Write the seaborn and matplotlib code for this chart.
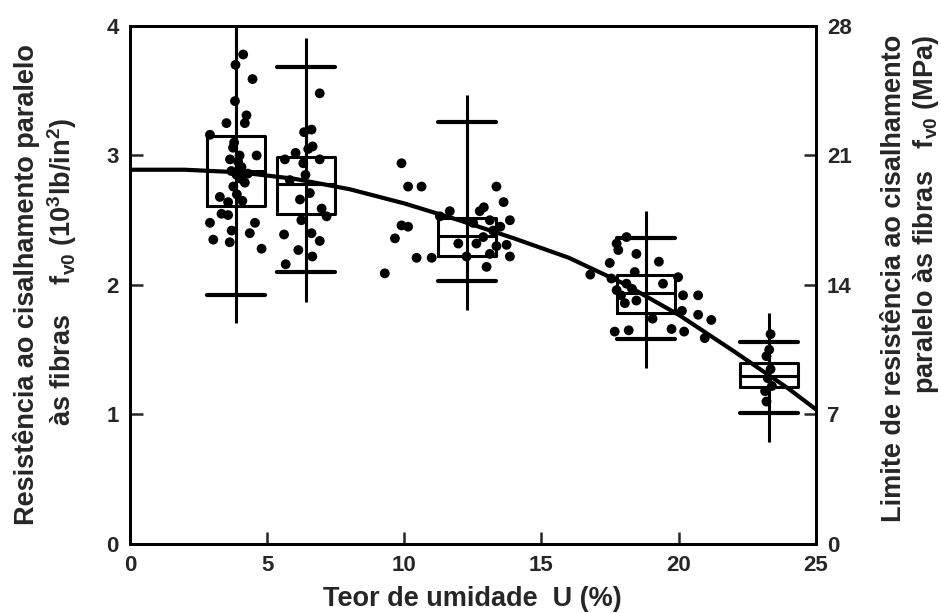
import pandas as pd
import seaborn as sns
import matplotlib.pyplot as plt

# fitted curve
curve_u = [0, 2, 4, 6, 8, 10, 12, 14, 16, 18, 20, 22, 24, 25]
curve_f = [2.89, 2.89, 2.87, 2.82, 2.74, 2.63, 2.50, 2.36, 2.21, 2.01, 1.77, 1.49, 1.20, 1.04]

# box summaries for the five moisture groups
box_pos = [3.87, 6.42, 12.28, 18.82, 23.30]
box_q1 = [2.61, 2.55, 2.22, 1.78, 1.21]
box_med = [2.88, 2.78, 2.38, 1.94, 1.30]
box_q3 = [3.15, 2.99, 2.52, 2.08, 1.40]
cap_lo = [1.92, 2.10, 2.03, 1.58, 1.01]
cap_hi = [4.20, 3.68, 3.26, 2.36, 1.56]
range_lo = [1.71, 1.87, 1.81, 1.36, 0.79]
range_hi = [4.30, 3.91, 3.47, 2.57, 1.78]

# individual specimens (U %, fv0 in 10^3 lb/in2)
g1_u = [4.13, 4.47, 3.83, 3.52, 4.25, 4.19, 2.92, 4.62, 3.76, 3.65, 4.07, 3.89, 4.19, 3.77, 3.95,
        4.05, 3.70, 4.30, 3.28, 3.58, 3.34, 3.58, 2.92, 4.56, 3.71, 4.37, 3.04, 3.64, 4.80, 3.85,
        3.80, 4.00, 3.90, 4.10]
g1_f = [3.78, 3.59, 3.42, 3.25, 3.31, 3.25, 3.16, 3.00, 3.06, 2.97, 2.91, 2.85, 2.79, 2.76, 2.95,
        2.82, 2.88, 2.86, 2.68, 2.64, 2.55, 2.54, 2.48, 2.48, 2.42, 2.40, 2.35, 2.33, 2.28, 3.70,
        3.10, 3.00, 2.70, 2.65]
g2_u = [6.92, 6.35, 6.62, 6.66, 6.04, 5.65, 6.92, 6.32, 5.83, 6.56, 6.20, 6.99, 7.17, 5.62, 6.62,
        6.92, 6.14, 6.65, 5.68, 6.40, 6.50, 6.25]
g2_f = [3.48, 3.18, 3.20, 3.07, 3.02, 2.97, 2.97, 2.94, 2.81, 2.71, 2.66, 2.59, 2.53, 2.39, 2.40,
        2.34, 2.27, 2.22, 2.16, 2.85, 3.05, 2.50]
g3_u = [9.90, 10.14, 10.63, 9.90, 10.14, 9.66, 10.45, 11.00, 9.29, 11.97, 13.36, 13.62, 13.85, 13.73,
        13.85, 13.00, 12.75, 13.12, 13.24, 12.88, 13.36, 12.51, 12.63, 13.12, 12.27, 11.66, 11.30,
        12.90, 13.50]
g3_f = [2.94, 2.76, 2.76, 2.46, 2.45, 2.36, 2.21, 2.21, 2.09, 2.32, 2.76, 2.64, 2.50, 2.31,
        2.22, 2.14, 2.57, 2.50, 2.42, 2.37, 2.30, 2.48, 2.32, 2.24, 2.22, 2.57, 2.53,
        2.60, 2.45]
g4_u = [17.74, 18.10, 17.80, 18.46, 17.49, 19.28, 18.40, 18.10, 17.74, 19.43, 19.98, 20.16, 20.71, 20.12,
        20.71, 21.19, 20.95, 19.74, 20.20, 17.67, 18.18, 19.05, 18.46, 18.04, 17.55, 16.78, 17.90, 18.30]
g4_f = [2.32, 2.37, 2.27, 2.24, 2.17, 2.18, 2.10, 2.01, 1.96, 2.01, 2.06, 1.92, 1.92, 1.80,
        1.77, 1.73, 1.59, 1.66, 1.64, 1.64, 1.65, 1.74, 1.88, 1.86, 2.05, 2.08, 1.92, 1.97]
g5_u = [23.20, 23.35, 23.25, 23.40, 23.15, 23.30, 23.20, 23.35]
g5_f = [1.45, 1.35, 1.28, 1.22, 1.18, 1.50, 1.10, 1.62]

points = pd.DataFrame({
    'U': g1_u + g2_u + g3_u + g4_u + g5_u,
    'fv0': g1_f + g2_f + g3_f + g4_f + g5_f,
})
curve = pd.DataFrame({'U': curve_u, 'fv0': curve_f})

sns.set_style('ticks')
plt.rcParams['font.family'] = ['Liberation Sans', 'DejaVu Sans']
plt.rcParams['font.weight'] = 'bold'
plt.rcParams['mathtext.fontset'] = 'custom'
plt.rcParams['mathtext.rm'] = 'Liberation Sans:bold'
plt.rcParams['mathtext.it'] = 'Liberation Sans:bold'
plt.rcParams['mathtext.bf'] = 'Liberation Sans:bold'
plt.rcParams['mathtext.default'] = 'rm'

fig, ax = plt.subplots(figsize=(9.41, 6.13), dpi=100, facecolor='white')
fig.subplots_adjust(left=0.138, right=0.867, bottom=0.1126, top=0.9576)

sns.scatterplot(data=points, x='U', y='fv0', color='black', s=50, edgecolor='none', ax=ax, zorder=3)
sns.lineplot(data=curve, x='U', y='fv0', color='black', lw=3, estimator=None, ax=ax, zorder=4)

# boxes with wide caps, plus the full range line through each
stats = []
for i in range(len(box_pos)):
    stats.append(dict(med=box_med[i], q1=box_q1[i], q3=box_q3[i],
                      whislo=cap_lo[i], whishi=cap_hi[i], fliers=[]))
line_kw = dict(color='black', lw=2.2)
ax.bxp(stats, positions=box_pos, widths=2.1, capwidths=2.1, showfliers=False,
       boxprops=line_kw, whiskerprops=line_kw, capprops=dict(color='black', lw=3),
       medianprops=line_kw, manage_ticks=False)
ax.vlines(box_pos, range_lo, range_hi, color='black', lw=2.2, zorder=3)

ax.set_xlim(0, 25)
ax.set_ylim(0, 4)
ax.set_xticks([0, 5, 10, 15, 20, 25])
ax.set_yticks([0, 1, 2, 3, 4])
ax.set_xlabel('Teor de umidade  U (%)', fontsize=19.5, fontweight='bold', labelpad=7)
ax.set_ylabel('')
ax.tick_params(direction='in', length=9, width=1.8, labelsize=16, pad=8)

ax2 = ax.twinx()
ax2.set_ylim(0, 28)
ax2.set_yticks([0, 7, 14, 21, 28])
ax2.tick_params(direction='in', length=9, width=1.8, labelsize=16, pad=8)

for a in (ax, ax2):
    for sp in a.spines.values():
        sp.set_linewidth(2)
        sp.set_color('black')
    for lab in a.get_xticklabels() + a.get_yticklabels():
        lab.set_fontweight('bold')

# left axis title, two lines placed separately
fig.text(0.028, 0.535, 'Resistência ao cisalhamento paralelo',
         rotation=90, ha='center', va='center', fontsize=19.5, fontweight='bold')
fig.text(0.066, 0.305, 'às fibras    f$_{v0}$ (10$^{3}$lb/in$^{2}$)',
         rotation=90, ha='center', va='bottom', fontsize=19.5, fontweight='bold')
fig.text(0.968, 0.546,
         'Limite de resistência ao cisalhamento\nparalelo às fibras   f$_{v0}$ (MPa)',
         rotation=90, ha='center', va='center', multialignment='right',
         fontsize=19.5, fontweight='bold', linespacing=1.2)

fig.savefig('out.png', dpi=100, facecolor='white')
